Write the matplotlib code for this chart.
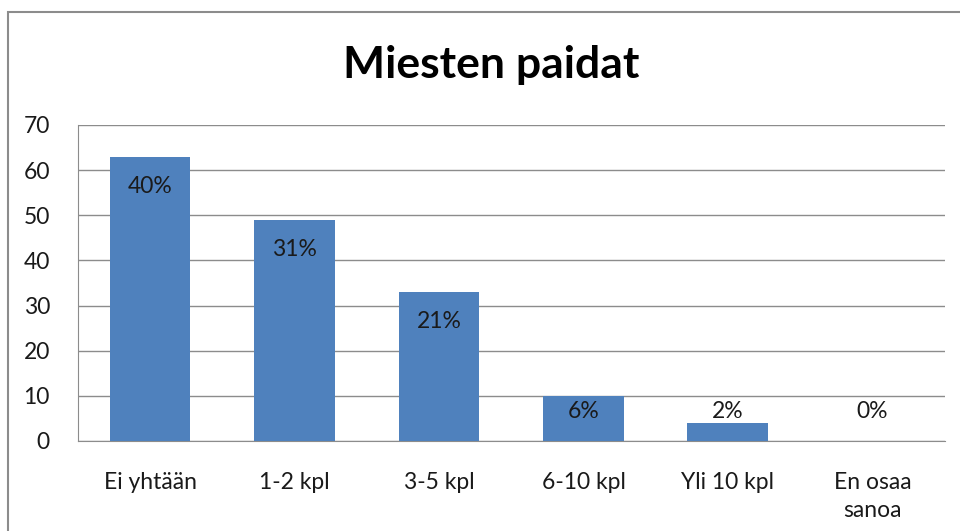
import matplotlib.pyplot as plt
from matplotlib.patches import Rectangle

categories = ['Ei yhtään', '1-2 kpl', '3-5 kpl', '6-10 kpl', 'Yli 10 kpl', 'En osaa\nsanoa']
counts = [63, 49, 33, 10, 4, 0]
pct_labels = ['40%', '31%', '21%', '6%', '2%', '0%']
yticks = [0, 10, 20, 30, 40, 50, 60, 70]

plt.rcParams['font.family'] = ['Lato', 'DejaVu Sans']

fig = plt.figure(figsize=(9.6, 5.31), dpi=100)
ax = fig.add_axes([0.081, 0.1695, 0.903, 0.5951])

# outer chart frame (runs off the right / bottom edge like the screenshot)
fig.patches.append(Rectangle((8 / 960, -0.1), 1.2, 1 - 12 / 531 + 0.1,
                             transform=fig.transFigure, fill=False,
                             edgecolor='#8c8c8c', linewidth=1.5))

x = range(len(categories))
ax.bar(x, counts, width=0.56, color='#4F81BD', zorder=3)

for i, (v, lab) in enumerate(zip(counts, pct_labels)):
    ax.text(i, max(v - 6.6, 6.5), lab, ha='center', va='center',
            fontsize=16.5, color='#1a1a1a', zorder=4)

ax.set_xlim(-0.5, len(categories) - 0.5)
ax.set_ylim(0, 70)
ax.set_yticks(yticks)
ax.yaxis.grid(True, color='#8c8c8c', linewidth=1)
ax.set_axisbelow(True)
ax.set_xticks(list(x))
ax.set_xticklabels(categories, fontsize=16.5, linespacing=1.45, color='#1a1a1a')
ax.tick_params(axis='y', labelsize=16.5, labelcolor='#1a1a1a', length=0, pad=20)
ax.tick_params(axis='x', length=0, pad=22)

for s in ['top', 'right']:
    ax.spines[s].set_visible(False)
for s in ['left', 'bottom']:
    ax.spines[s].set_color('#8c8c8c')

fig.text(0.512, 0.878, 'Miesten paidat', ha='center', va='center',
         fontsize=32, fontweight='bold')

fig.savefig('out.png', dpi=100)
